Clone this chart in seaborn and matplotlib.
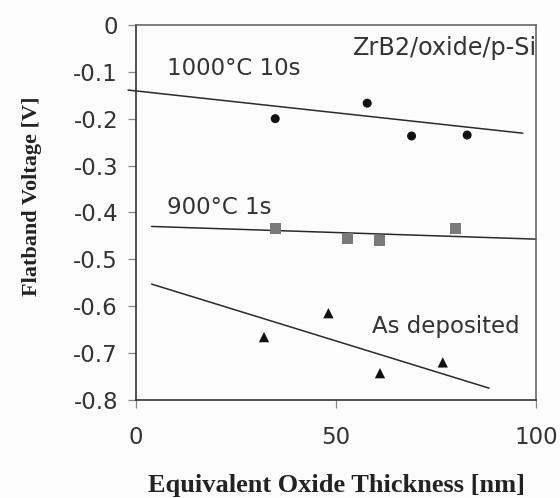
import matplotlib
matplotlib.use("Agg")
import matplotlib.pyplot as plt
import seaborn as sns
import pandas as pd

# Measured flatband voltages (EOT in nm, Vfb in V)
eot_1000 = [34.8, 57.8, 68.9, 82.8]
vfb_1000 = [-0.200, -0.167, -0.237, -0.235]

eot_900 = [34.8, 52.8, 60.8, 79.8]
vfb_900 = [-0.435, -0.455, -0.460, -0.435]

eot_dep = [32.0, 48.1, 61.0, 76.7]
vfb_dep = [-0.666, -0.615, -0.743, -0.720]

# Linear trend lines (end points)
fit_1000_x = [-2.0, 96.7]
fit_1000_y = [-0.139, -0.231]
fit_900_x = [3.9, 100.0]
fit_900_y = [-0.430, -0.457]
fit_dep_x = [3.9, 88.3]
fit_dep_y = [-0.553, -0.775]

labels = ["1000°C 10s", "900°C 1s", "As deposited"]
title_text = "ZrB2/oxide/p-Si"
x_ticks = [0, 50, 100]
y_ticks = [0, -0.1, -0.2, -0.3, -0.4, -0.5, -0.6, -0.7, -0.8]

sns.set_style("white")
plt.rcParams["font.family"] = ["DejaVu Sans"]
plt.rcParams["axes.unicode_minus"] = False

fig = plt.figure(figsize=(5.6, 4.98), dpi=100, facecolor="#fcfcfc")
ax = fig.add_axes([0.243, 0.197, 0.714, 0.753])
ax.set_facecolor("#fcfcfc")

pts = pd.concat([
    pd.DataFrame({"eot": eot_1000, "vfb": vfb_1000, "set": labels[0]}),
    pd.DataFrame({"eot": eot_900, "vfb": vfb_900, "set": labels[1]}),
    pd.DataFrame({"eot": eot_dep, "vfb": vfb_dep, "set": labels[2]}),
])
fits = pd.concat([
    pd.DataFrame({"eot": fit_1000_x, "vfb": fit_1000_y, "set": labels[0]}),
    pd.DataFrame({"eot": fit_900_x, "vfb": fit_900_y, "set": labels[1]}),
    pd.DataFrame({"eot": fit_dep_x, "vfb": fit_dep_y, "set": labels[2]}),
])

for lab in labels:
    sub = fits[fits["set"] == lab]
    sns.lineplot(data=sub, x="eot", y="vfb", ax=ax, color="#2a2a2a",
                 linewidth=1.1, legend=False, clip_on=False, sort=False)

styles = {
    labels[0]: dict(marker="o", color="#111111", s=42),
    labels[1]: dict(marker="s", color="#7a7a7a", s=60),
    labels[2]: dict(marker="^", color="#111111", s=55),
}
for lab in labels:
    sub = pts[pts["set"] == lab]
    st = styles[lab]
    sns.scatterplot(data=sub, x="eot", y="vfb", ax=ax, marker=st["marker"],
                    color=st["color"], s=st["s"], edgecolor="none",
                    legend=False, zorder=3)

txt_kw = dict(fontsize=16.5, color="#333333", va="center", ha="left")
ax.text(7.8, -0.094, labels[0], **txt_kw)
ax.text(7.8, -0.390, labels[1], **txt_kw)
ax.text(58.9, -0.644, labels[2], **txt_kw)
ax.text(54.3, -0.049, title_text, clip_on=True,
        **{**txt_kw, "fontsize": 17.2})

ax.set_xlim(0, 100)
ax.set_ylim(-0.8, 0)
ax.set_xticks(x_ticks)
ax.set_yticks(y_ticks)
ax.set_yticklabels([f"{v:g}" for v in y_ticks])

ax.tick_params(axis="both", direction="out", length=6, width=0.9,
               color="#888888", labelsize=16.5, labelcolor="#333333")
ax.tick_params(axis="y", left=True, pad=7)
ax.tick_params(axis="x", bottom=True, pad=13)

for side in ["left", "bottom"]:
    ax.spines[side].set_color("#333333")
    ax.spines[side].set_linewidth(1.2)
for side in ["top", "right"]:
    ax.spines[side].set_color("#666666")
    ax.spines[side].set_linewidth(1.2)

ax.set_xlabel("Equivalent Oxide Thickness [nm]", family="Liberation Serif",
              weight="bold", size=19, color="#222222", labelpad=18)
ax.set_ylabel("Flatband Voltage [V]", family="Liberation Serif",
              weight="bold", size=16, color="#222222")
ax.yaxis.set_label_coords(-0.235, 0.543)

fig.savefig("out.png", dpi=100, facecolor=fig.get_facecolor())
